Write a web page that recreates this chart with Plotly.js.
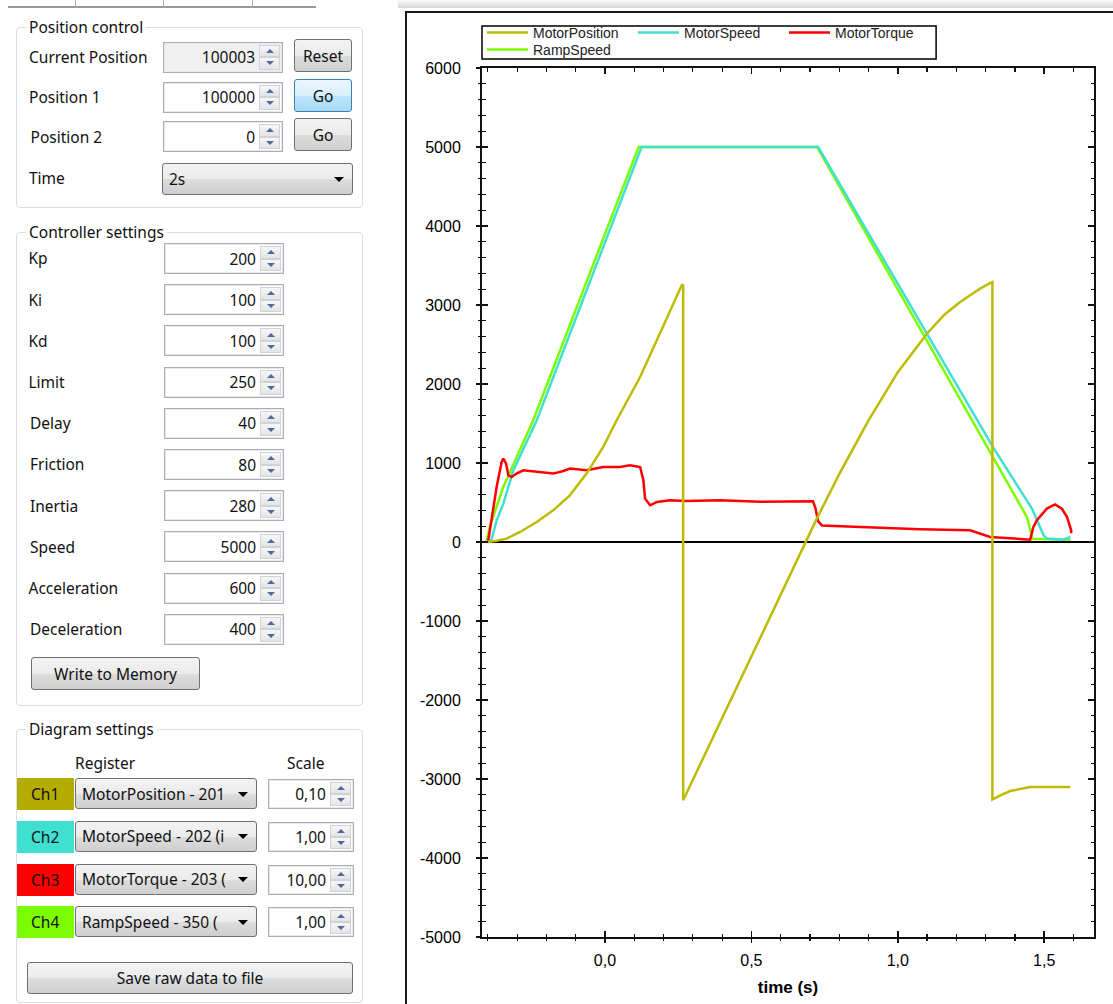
<!DOCTYPE html>
<html>
<head>
<meta charset="utf-8">
<script src="https://cdn.plot.ly/plotly-3.0.1.min.js"></script>
<style>
html,body{margin:0;padding:0;background:#fff;}
body{width:1113px;height:1004px;position:relative;overflow:hidden;font-family:"Noto Sans",sans-serif;font-size:15.5px;color:#111;}
#chart{position:absolute;left:0;top:0;width:1113px;height:1004px;z-index:1;}
#form{position:absolute;left:0;top:0;width:1113px;height:1004px;z-index:5;pointer-events:none;}
.ui{position:absolute;box-sizing:border-box;}
.grp{border:1px solid #d5dfe5;border-radius:4px;}
.gtitle{background:#fff;padding:0 3px;line-height:20px;white-space:nowrap;}
.lbl{line-height:20px;white-space:nowrap;}
.num{border:1px solid #abadb3;background:#fff;box-shadow:inset 0 0 0 1px #e6e8ee;}
.numtxt{position:absolute;top:0;bottom:0;display:flex;align-items:center;white-space:nowrap;}
.spin{position:absolute;right:2px;top:2px;bottom:2px;width:21px;display:flex;flex-direction:column;}
.spin div{flex:1;border:1px solid #cfd2d8;background:linear-gradient(#f7f7f7,#e4e4e4);display:flex;align-items:center;justify-content:center;box-sizing:border-box;}
.up{width:0;height:0;border-left:4px solid transparent;border-right:4px solid transparent;border-bottom:4px solid #4e6a9e;}
.dn{width:0;height:0;border-left:4px solid transparent;border-right:4px solid transparent;border-top:4px solid #4e6a9e;}
.btn{border:1px solid #707070;border-radius:3px;background:linear-gradient(#f3f3f3 0%,#ebebeb 50%,#dddddd 51%,#cfcfcf 100%);display:flex;align-items:center;justify-content:center;white-space:nowrap;}
.btn.hi{border-color:#3c7fb1;background:linear-gradient(#eaf6fd 0%,#d9f0fc 50%,#bee6fd 51%,#a7d9f5 100%);}
.cmb{border:1px solid #707070;border-radius:3px;background:linear-gradient(#f3f3f3 0%,#ebebeb 50%,#dddddd 51%,#cfcfcf 100%);overflow:hidden;}
.cmbtxt{position:absolute;left:6px;top:0;bottom:0;right:24px;display:flex;align-items:center;white-space:nowrap;overflow:hidden;}
.arrow{position:absolute;right:8px;top:50%;margin-top:-2px;width:0;height:0;border-left:5px solid transparent;border-right:5px solid transparent;border-top:5px solid #000;}
.sw{display:flex;align-items:center;justify-content:center;}
</style>
</head>
<body>
<div id="chart"></div>
<div id="form"></div>
<script>
// ---------------- chart data ----------------
const xTickVals = [0, 0.5, 1, 1.5];
const xTickLabels = ['0,0', '0,5', '1,0', '1,5'];
const yTickVals = [-5000, -4000, -3000, -2000, -1000, 0, 1000, 2000, 3000, 4000, 5000, 6000];
const yTickLabels = ['-5000', '-4000', '-3000', '-2000', '-1000', '0', '1000', '2000', '3000', '4000', '5000', '6000'];

const positionTime = [-0.404, -0.37, -0.336, -0.29, -0.233, -0.177, -0.12, -0.063, -0.006, 0.04, 0.12, 0.188, 0.262, 0.267, 0.267, 0.35, 0.45, 0.55, 0.65, 0.72, 0.8, 0.9, 1.0, 1.1, 1.16, 1.213, 1.247, 1.281, 1.315, 1.323, 1.323, 1.35, 1.384, 1.424, 1.452, 1.589];
const motorPosition = [0, 15, 43, 127, 253, 401, 591, 866, 1203, 1541, 2089, 2641, 3249, 3260, -3270, -2620, -1840, -1060, -280, 270, 860, 1540, 2150, 2640, 2880, 3038, 3123, 3207, 3278, 3290, -3260, -3207, -3152, -3122, -3101, -3101];

const speedTime = [-0.39, -0.37, -0.347, -0.313, -0.233, 0.0, 0.125, 0.2, 0.4, 0.6, 0.728, 0.9, 1.1, 1.325, 1.458, 1.475, 1.498, 1.509, 1.565, 1.589];
const motorSpeed = [0, 274, 486, 907, 1541, 3780, 5000, 5000, 5000, 5000, 5000, 3905, 2632, 1200, 423, 275, 85, 43, 30, 63];

const torqueTime = [-0.40, -0.387, -0.37, -0.353, -0.347, -0.338, -0.330, -0.319, -0.302, -0.279, -0.233, -0.177, -0.142, -0.120, -0.063, -0.006, 0.051, 0.085, 0.120, 0.131, 0.137, 0.154, 0.177, 0.222, 0.279, 0.336, 0.393, 0.53, 0.666, 0.71, 0.718, 0.728, 0.741, 0.837, 0.94, 1.076, 1.179, 1.247, 1.315, 1.407, 1.452, 1.463, 1.475, 1.509, 1.537, 1.56, 1.578, 1.592, 1.592];
const motorTorque = [-12, 274, 696, 1013, 1055, 996, 844, 823, 866, 907, 886, 866, 899, 929, 907, 949, 949, 971, 949, 781, 549, 465, 506, 528, 519, 519, 528, 510, 520, 515, 440, 260, 210, 200, 180, 160, 148, 148, 63, 43, 30, 190, 275, 423, 477, 423, 316, 148, 110];

const rampTime = [-0.405, -0.393, -0.347, -0.245, 0.0, 0.115, 0.724, 0.9, 1.1, 1.3, 1.441, 1.46, 1.59];
const rampSpeed = [0, 200, 700, 1541, 3900, 5000, 5000, 3850, 2540, 1230, 316, 40, 30];

// ---------------- form data ----------------
const posLabels = ['Current Position', 'Position 1', 'Position 2'];
const posValues = ['100003', '100000', '0'];
const posButtons = ['Reset', 'Go', 'Go'];
const timeValue = '2s';
const ctrlLabels = ['Kp', 'Ki', 'Kd', 'Limit', 'Delay', 'Friction', 'Inertia', 'Speed', 'Acceleration', 'Deceleration'];
const ctrlValues = ['200', '100', '100', '250', '40', '80', '280', '5000', '600', '400'];
const chNames = ['Ch1', 'Ch2', 'Ch3', 'Ch4'];
const chRegisters = ['MotorPosition - 201', 'MotorSpeed - 202 (i', 'MotorTorque - 203 (', 'RampSpeed - 350 ('];
const chScales = ['0,10', '1,00', '10,00', '1,00'];

const COL = {pos: '#bdbb00', speed: '#40e0d0', torque: '#ff0000', ramp: '#7cfc00'};
const chColors = ['#b4ac00', '#40e0d0', '#ff0000', '#7cfc00'];

// ---------------- form building ----------------
const form = document.getElementById('form');
function el(cls, x, y, w, h, text, parent) {
  const d = document.createElement('div');
  d.className = 'ui ' + cls;
  d.style.left = x + 'px'; d.style.top = y + 'px';
  if (w != null) d.style.width = w + 'px';
  if (h != null) d.style.height = h + 'px';
  if (text != null) d.textContent = text;
  (parent || form).appendChild(d);
  return d;
}
function label(x, yc, text) { return el('lbl', x, yc - 10, null, 20, text); }
function group(x, y, w, h, title) { el('grp', x, y, w, h); el('gtitle', x + 10, y - 10, null, 20, title); }
function numBox(x, y, w, h, val, disabled) {
  const b = el('num', x, y, w, h);
  if (disabled) b.style.background = '#f0f0f0';
  const t = document.createElement('div'); t.className = 'numtxt'; t.textContent = val; t.style.right = '27px'; b.appendChild(t);
  const s = document.createElement('div'); s.className = 'spin';
  const u = document.createElement('div'); const ui = document.createElement('span'); ui.className = 'up'; u.appendChild(ui);
  const dd = document.createElement('div'); const di = document.createElement('span'); di.className = 'dn'; dd.appendChild(di);
  s.appendChild(u); s.appendChild(dd); b.appendChild(s);
  return b;
}
function button(x, y, w, h, text, hi) { const b = el('btn' + (hi ? ' hi' : ''), x, y, w, h, text); return b; }
function combo(x, y, w, h, text) {
  const c = el('cmb', x, y, w, h);
  const t = document.createElement('div'); t.className = 'cmbtxt'; t.textContent = text; c.appendChild(t);
  const a = document.createElement('div'); a.className = 'arrow'; c.appendChild(a);
  return c;
}

// window decorations
el('', 8, 6, 308, 2).style.background = '#9a9a9a';
[75, 163, 252].forEach(x => { el('', x, 0, 1, 7).style.background = '#b0b0b0'; });
el('', 398, 0, 715, 8).style.background = 'linear-gradient(#fbfbfb,#d6d6d6)';
el('', 405, 11, 708, 2).style.background = '#1a1a1a';
el('', 405, 11, 2, 993).style.background = '#1a1a1a';

// Position control
group(16, 27, 347, 181, 'Position control');
const posY = [41.7, 81.7, 121];
const posLabelX = [29, 29, 30.5];
const posBtnY = [39, 79, 118];
posLabels.forEach((t, i) => {
  label(posLabelX[i], posY[i] + 15.5, t);
  numBox(163, posY[i], 120, 31, posValues[i], i === 0);
  button(294, posBtnY[i], 58, 33, posButtons[i], i === 1);
});
label(29, 178.3, 'Time');
combo(162, 163, 191, 32, timeValue);

// Controller settings
group(16, 232, 347, 474, 'Controller settings');
ctrlLabels.forEach((t, i) => {
  const yc = 258.3 + i * 41.2;
  label((t === 'Kp' || t === 'Ki' || t === 'Kd' || t === 'Limit' || t === 'Acceleration') ? 28.5 : 30, yc, t);
  numBox(164, yc - 15.3, 120, 31, ctrlValues[i], false);
});
button(31, 657, 169, 33, 'Write to Memory', false);

// Diagram settings
group(16, 729, 347, 274, 'Diagram settings');
label(75, 763, 'Register');
label(287, 763, 'Scale');
chNames.forEach((n, i) => {
  const top = 778.3 + i * 42.6;
  const s = el('sw', 16.7, top, 57, 32, n);
  s.style.background = chColors[i];
  combo(75, top, 182, 31, chRegisters[i]);
  numBox(268, top + 1, 86, 30, chScales[i], false);
});
button(27, 962, 326, 32, 'Save raw data to file', false);

// ---------------- chart ----------------
const common = {type: 'scatter', mode: 'lines', hoverinfo: 'skip'};
const traces = [
  Object.assign({}, common, {name: 'RampSpeed', x: rampTime, y: rampSpeed, line: {color: COL.ramp, width: 2.5}, legend: 'legend2'}),
  Object.assign({}, common, {name: 'MotorSpeed', x: speedTime, y: motorSpeed, line: {color: COL.speed, width: 2.5}, legendrank: 2}),
  Object.assign({}, common, {name: 'MotorTorque', x: torqueTime, y: motorTorque, line: {color: COL.torque, width: 2.5}, legendrank: 3}),
  Object.assign({}, common, {name: 'MotorPosition', x: positionTime, y: motorPosition, line: {color: COL.pos, width: 2.5}, legendrank: 1}),
  {type: 'scatter', mode: 'lines', x: [], y: [], xaxis: 'x2', yaxis: 'y', showlegend: false, hoverinfo: 'skip'},
  {type: 'scatter', mode: 'lines', x: [], y: [], xaxis: 'x', yaxis: 'y2', showlegend: false, hoverinfo: 'skip'}
];

const xRange = [-0.42, 1.67];
const yRange = [-5000, 6000];
const tickCol = '#111';
const legendCommon = {orientation: 'h', xanchor: 'left', yanchor: 'top', bgcolor: 'rgba(0,0,0,0)', borderwidth: 0,
  font: {family: '"Liberation Sans", Arial, sans-serif', size: 14, color: '#222'}, entrywidth: 95, entrywidthmode: 'pixels', itemwidth: 41, tracegroupgap: 0};

const layout = {
  width: 1113, height: 1004,
  margin: {l: 482, r: 19, t: 68, b: 67, autoexpand: false},
  paper_bgcolor: 'rgba(0,0,0,0)', plot_bgcolor: '#fff',
  font: {family: '"Liberation Sans", Arial, sans-serif', size: 16, color: '#000'},
  showlegend: true,
  xaxis: {
    range: xRange, autorange: false, tickmode: 'array', tickvals: xTickVals, ticktext: xTickLabels,
    ticks: 'inside', ticklen: 6, tickwidth: 1.5, tickcolor: tickCol, mirror: 'ticks',
    showline: true, linecolor: tickCol, linewidth: 2, showgrid: false, zeroline: false, ticklabelstandoff: 8,
    minor: {tickmode: 'linear', tick0: 0, dtick: 0.1, ticks: 'inside', ticklen: 3.5, tickwidth: 1.2, tickcolor: tickCol, showgrid: false},
    title: {text: '<b>time (s)</b>', font: {size: 17, color: '#000'}, standoff: 13}
  },
  xaxis2: {
    overlaying: 'x', anchor: 'y', side: 'bottom', range: xRange, autorange: false,
    tickmode: 'array', tickvals: xTickVals, ticks: 'outside', ticklen: 5, tickwidth: 1.5, tickcolor: tickCol,
    showticklabels: false, showline: false, showgrid: false, zeroline: false,
    minor: {tickmode: 'linear', tick0: 0, dtick: 0.1, ticks: 'outside', ticklen: 3, tickwidth: 1.2, tickcolor: tickCol, showgrid: false}
  },
  yaxis: {
    range: yRange, autorange: false, tickmode: 'array', tickvals: yTickVals, ticktext: yTickLabels,
    ticks: 'inside', ticklen: 6, tickwidth: 1.5, tickcolor: tickCol, mirror: 'ticks',
    showline: true, linecolor: tickCol, linewidth: 2, showgrid: false,
    zeroline: true, zerolinecolor: '#000', zerolinewidth: 1.5, ticklabelstandoff: 16,
    minor: {tickmode: 'linear', tick0: 0, dtick: 200, ticks: 'inside', ticklen: 3.5, tickwidth: 1.2, tickcolor: tickCol, showgrid: false}
  },
  yaxis2: {
    overlaying: 'y', anchor: 'x', side: 'left', range: yRange, autorange: false,
    tickmode: 'array', tickvals: yTickVals, ticks: 'outside', ticklen: 5, tickwidth: 1.5, tickcolor: tickCol,
    showticklabels: false, showline: false, showgrid: false, zeroline: false,
    minor: {tickmode: 'linear', tick0: 0, dtick: 200, ticks: 'outside', ticklen: 3, tickwidth: 1.2, tickcolor: tickCol, showgrid: false}
  },
  legend: Object.assign({}, legendCommon, {x: 0, y: 1.0587, traceorder: 'normal'}),
  legend2: Object.assign({}, legendCommon, {x: 0, y: 1.0391}),
  shapes: [{type: 'rect', xref: 'paper', yref: 'paper', x0: 0, x1: 0.742, y0: 1.0104, y1: 1.0483, line: {color: '#000', width: 1.5}}]
};

Plotly.newPlot('chart', traces, layout, {displayModeBar: false, staticPlot: true});
</script>
</body>
</html>
